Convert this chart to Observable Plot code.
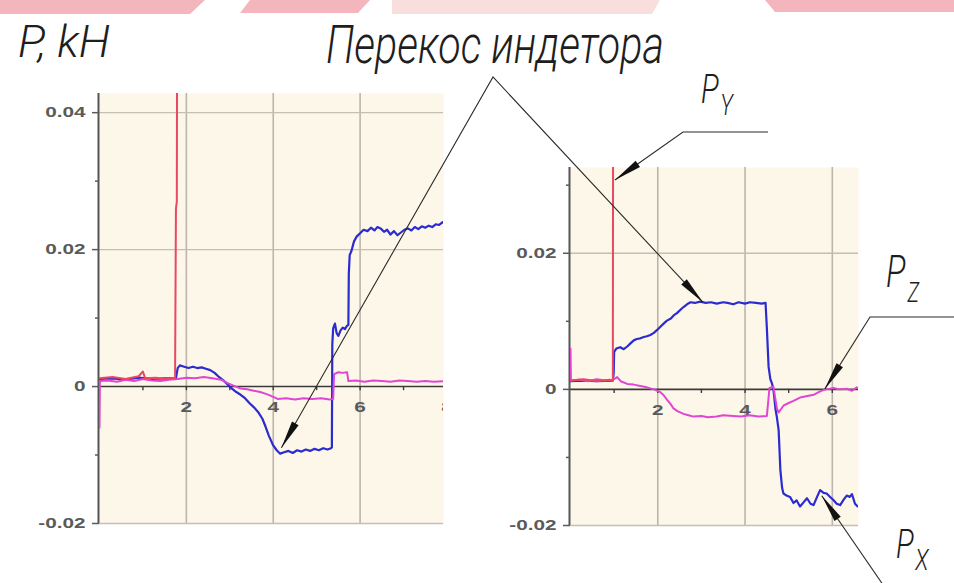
<!DOCTYPE html>
<html><head><meta charset="utf-8">
<script src="https://cdn.jsdelivr.net/npm/d3@7"></script>
<script src="https://cdn.jsdelivr.net/npm/@observablehq/plot@0.6"></script>
<style>
body{margin:0;background:#fff;}
#wrap{position:relative;width:954px;height:583px;overflow:hidden;background:#fff;}
#wrap svg{position:absolute;left:0;top:0;max-width:none;}
</style></head><body><div id="wrap"></div>
<script>
// ---------- data : left panel ----------
const leftPxT = [0,0.3,0.6,0.9,1.2,1.5,1.76,1.8,1.85,1.95,2.05,2.15,2.25,2.35,2.45,2.55,2.65,2.75,2.85,2.95,3.05,3.15,3.25,3.35,3.45,3.55,3.65,3.75,3.82,3.9,4.0,4.08,4.16,4.25,4.35,4.45,4.55,4.65,4.75,4.85,4.95,5.05,5.15,5.25,5.33,5.35,5.36,5.38,5.42,5.46,5.5,5.55,5.6,5.65,5.7,5.73,5.74,5.76,5.8,5.86,5.92,6.0,6.08,6.17,6.25,6.33,6.4,6.47,6.55,6.62,6.7,6.78,6.86,6.94,7.02,7.1,7.18,7.26,7.34,7.42,7.5,7.58,7.66,7.74,7.82,7.9,7.95];
const leftPxV = [0.0011,0.0012,0.001,0.0013,0.0011,0.0012,0.0012,0.0027,0.0031,0.0029,0.0027,0.0029,0.0027,0.0028,0.0026,0.0024,0.002,0.0014,0.0009,0.0003,-0.0003,-0.0008,-0.0012,-0.0017,-0.0024,-0.003,-0.0037,-0.0047,-0.0058,-0.0072,-0.0086,-0.0093,-0.0098,-0.0096,-0.0094,-0.0097,-0.0093,-0.0095,-0.0092,-0.0094,-0.0091,-0.0093,-0.009,-0.0092,-0.009,-0.0089,0.0062,0.0085,0.0092,0.0078,0.0074,0.0082,0.0086,0.0084,0.0089,0.009,0.0165,0.0192,0.0198,0.0212,0.0219,0.0224,0.0229,0.0227,0.0232,0.0228,0.0233,0.0231,0.0226,0.0229,0.0222,0.0227,0.0221,0.0225,0.0229,0.0231,0.0228,0.0233,0.023,0.0234,0.0232,0.0235,0.0233,0.0237,0.0236,0.024,0.0238];
const leftPzT = [0,0.01,0.2,0.4,0.6,0.8,1.0,1.2,1.4,1.6,1.8,2.0,2.2,2.4,2.6,2.8,2.95,3.1,3.25,3.4,3.55,3.7,3.85,4.0,4.1,4.3,4.5,4.7,4.9,5.1,5.3,5.38,5.4,5.5,5.6,5.7,5.73,5.9,6.1,6.3,6.5,6.7,6.9,7.1,7.3,7.5,7.7,7.95];
const leftPzV = [-0.006,0.0008,0.0009,0.0007,0.001,0.0008,0.0011,0.0009,0.0008,0.001,0.0011,0.0013,0.0012,0.0014,0.0012,0.001,0.0005,0.0001,-0.0003,-0.0004,-0.0006,-0.0008,-0.0011,-0.0015,-0.0018,-0.0017,-0.0019,-0.0017,-0.0018,-0.0017,-0.0019,-0.0018,0.0018,0.0021,0.002,0.0021,0.0008,0.0009,0.0007,0.0009,0.0008,0.0007,0.0009,0.0008,0.0007,0.0008,0.0007,0.0008];
const leftPyT = [0,0.3,0.6,0.9,1.0,1.05,1.3,1.5,1.74,1.76,1.78,1.79];
const leftPyV = [0.0012,0.0014,0.0011,0.0015,0.0022,0.0012,0.0013,0.0011,0.0013,0.026,0.027,0.06];

// ---------- data : right panel ----------
const rightPxT = [0,0.3,0.6,0.97,0.99,1.0,1.05,1.14,1.22,1.3,1.38,1.45,1.52,1.6,1.68,1.75,1.83,1.91,1.98,2.06,2.14,2.21,2.3,2.37,2.44,2.52,2.59,2.67,2.75,2.85,2.97,3.1,3.22,3.35,3.5,3.6,3.73,3.85,4.0,4.11,4.25,4.38,4.47,4.5,4.54,4.58,4.62,4.65,4.7,4.73,4.77,4.81,4.85,4.88,4.95,5.03,5.11,5.18,5.26,5.34,5.42,5.5,5.57,5.65,5.72,5.8,5.87,5.95,6.03,6.1,6.18,6.26,6.33,6.4,6.45,6.52,6.58];
const rightPxV = [0.0012,0.0013,0.0012,0.0013,0.0024,0.0055,0.006,0.0062,0.0059,0.0063,0.0068,0.0072,0.0074,0.0075,0.0077,0.0078,0.008,0.0083,0.0087,0.0092,0.0097,0.0101,0.0104,0.0109,0.0112,0.0117,0.0121,0.0125,0.0128,0.0127,0.0129,0.0127,0.0128,0.0126,0.0128,0.0127,0.0125,0.0128,0.0126,0.0128,0.0127,0.0126,0.0127,0.009,0.0033,0.0015,0.0008,0.0,-0.003,-0.0041,-0.006,-0.0119,-0.0145,-0.0153,-0.0156,-0.0158,-0.0167,-0.0163,-0.0172,-0.0166,-0.016,-0.0168,-0.017,-0.0158,-0.0148,-0.0152,-0.0153,-0.0158,-0.0163,-0.0168,-0.017,-0.0162,-0.0156,-0.0158,-0.0154,-0.0168,-0.0172];
const rightPzT = [0,0.01,0.2,0.4,0.6,0.8,0.97,1.07,1.15,1.3,1.45,1.6,1.75,1.91,2.06,2.14,2.21,2.3,2.36,2.45,2.59,2.7,2.82,3.0,3.15,3.35,3.5,3.73,3.9,4.11,4.3,4.5,4.56,4.65,4.73,4.77,4.88,5.0,5.11,5.26,5.4,5.57,5.72,5.84,5.95,6.03,6.15,6.33,6.45,6.56,6.6];
const rightPzV = [0.006,0.0013,0.0014,0.0012,0.0015,0.0013,0.0014,0.0018,0.0012,0.0008,0.0007,0.0005,0.0003,0.0,-0.0004,-0.0009,-0.0015,-0.0022,-0.0028,-0.0032,-0.0036,-0.0038,-0.004,-0.0039,-0.0041,-0.004,-0.0038,-0.0039,-0.004,-0.0038,-0.004,-0.0039,0.0002,0.0004,-0.0028,-0.0034,-0.0024,-0.002,-0.0017,-0.0012,-0.001,-0.0008,-0.0003,0.0,0.0001,0.0002,0.0,0.0001,-0.0002,0.0003,0.0002];
const rightPyT = [0,0.3,0.6,0.9,0.97,0.98];
const rightPyV = [0.0013,0.0015,0.0012,0.0014,0.0013,0.06];

// ---------- axes / ticks ----------
const leftXDomain = [0, 7.92], leftYDomain = [-0.02, 0.0428];
const rightXDomain = [0, 6.6], rightYDomain = [-0.02, 0.0326];
const leftYTicks = [0.04, 0.02, 0, -0.02], leftYLabels = ["0.04", "0.02", "0", "-0.02"];
const leftYMinor = [0.03, 0.01, -0.01];
const leftYGrid = [0.04, 0.02, -0.02];
const leftXTicks = [2, 4, 6, 8], leftXLabels = ["2", "4", "6", "8"];
const leftXGrid = [2, 4, 6];
const leftXMinor = [1, 2, 3, 4, 5, 6, 7];
const rightYTicks = [0.02, 0, -0.02], rightYLabels = ["0.02", "0", "-0.02"];
const rightYMinor = [0.03, 0.01, -0.01];
const rightYGrid = [0.02, -0.02];
const rightXTicks = [2, 4, 6], rightXLabels = ["2", "4", "6"];
const rightXGrid = [2, 4, 6];
const rightXMinor = [1, 2, 3, 4, 5, 6];

// annotation targets (data units)
const skewLeftTarget = [4.2, -0.009];
const skewRightTarget = [3.05, 0.0127];
const pyTarget = [1.03, 0.0307];
const pzTarget = [5.84, 0.0];
const pxTarget = [5.77, -0.0157];

const BLUE = "#2b2bd0", MAGENTA = "#e046d2", RED = "#ea4763";
const series = (T, V) => T.map((t, i) => ({t, v: V[i]}));

function panel(o) {
  return Plot.plot({
    width: 954, height: 583,
    marginLeft: o.left, marginRight: 954 - o.right, marginTop: o.top, marginBottom: 583 - o.bottom,
    x: {domain: o.xDomain, axis: null},
    y: {domain: o.yDomain},
    style: {background: "transparent", overflow: "visible", fontFamily: "'Liberation Sans', Arial, sans-serif", fontSize: "15px", fontWeight: "bold", color: "#5a5a5a"},
    marks: [
      Plot.frame({fill: "#fcf7e9", stroke: null}),
      Plot.ruleX(o.xGrid, {stroke: "#bdb5ab", strokeWidth: 1.6}),
      Plot.ruleY(o.yGrid, {stroke: "#c4beb4", strokeWidth: 1.4}),
      Plot.ruleY([0], {stroke: "#3a3a3a", strokeWidth: 1.6}),
      Plot.ruleX(o.xMinor, {x: d => d, y1: 0, y2: -0.0006, stroke: "#3a3a3a", strokeWidth: 1.4}),
      Plot.ruleX([0], {stroke: "#555", strokeWidth: 2, dx: -1}),
      Plot.axisY({ticks: o.yTicks, tickSize: 7, tickPadding: 7, tickFormat: (d, i) => o.yLabels[o.yTicks.indexOf(d)], label: null, strokeWidth: 1.5}),
      Plot.axisY({ticks: o.yMinor, tickSize: 4, tickFormat: () => "", label: null, strokeWidth: 1.5}),
      Plot.text(o.xTicks, {x: d => d, y: 0, text: (d, i) => o.xLabels[i], dy: 21, clip: true, fill: "#5a5a5a"}),
      Plot.line(series(o.pxT, o.pxV), {x: "t", y: "v", stroke: BLUE, strokeWidth: 2.2, clip: true}),
      Plot.line(series(o.pzT, o.pzV), {x: "t", y: "v", stroke: MAGENTA, strokeWidth: 2, clip: true}),
      Plot.line(series(o.pyT, o.pyV), {x: "t", y: "v", stroke: RED, strokeWidth: 2, clip: true})
    ]
  });
}

const wrap = document.getElementById("wrap");

// watermark fragment at the top
const wm = d3.create("svg").attr("width", 954).attr("height", 583);
const wmShapes = [
  [[0,0],[205,0],[190,14],[0,14]],
  [[250,0],[370,0],[358,13],[240,13]],
  [[392,0],[660,0],[652,14],[392,14]],
  [[765,0],[954,0],[954,12],[775,12]]
];
wm.selectAll("polygon").data(wmShapes).join("polygon")
  .attr("points", d => d.map(p => p.join(",")).join(" "))
  .attr("fill", (d, i) => i === 2 ? "#f9dede" : "#f4b6bd");
wrap.append(wm.node());

const L = panel({left: 99, right: 443, top: 93, bottom: 523, xDomain: leftXDomain, yDomain: leftYDomain,
  yTicks: leftYTicks, yLabels: leftYLabels, yMinor: leftYMinor, yGrid: leftYGrid,
  xTicks: leftXTicks, xLabels: leftXLabels, xGrid: leftXGrid, xMinor: leftXMinor,
  pxT: leftPxT, pxV: leftPxV, pzT: leftPzT, pzV: leftPzV, pyT: leftPyT, pyV: leftPyV});
const R = panel({left: 570, right: 858, top: 167, bottom: 525, xDomain: rightXDomain, yDomain: rightYDomain,
  yTicks: rightYTicks, yLabels: rightYLabels, yMinor: rightYMinor, yGrid: rightYGrid,
  xTicks: rightXTicks, xLabels: rightXLabels, xGrid: rightXGrid, xMinor: rightXMinor,
  pxT: rightPxT, pxV: rightPxV, pzT: rightPzT, pzV: rightPzV, pyT: rightPyT, pyV: rightPyV});
wrap.append(L);
wrap.append(R);

// stretch tick labels horizontally like the reference
for (const svg of [L, R]) {
  svg.querySelectorAll("text").forEach(t => {
    if (!t.textContent) return;
    const len = t.getComputedTextLength();
    if (len > 0) { t.setAttribute("textLength", (len * 1.38).toFixed(1)); t.setAttribute("lengthAdjust", "spacingAndGlyphs"); }
  });
}

// ---------- annotations ----------
const pt = (plot, d) => [plot.scale("x").apply(d[0]), plot.scale("y").apply(d[1])];
const ov = d3.create("svg").attr("width", 954).attr("height", 583);
wrap.append(ov.node());
const ink = "#2b2b2b";
const FONT = "Roboto, 'Open Sans', 'DejaVu Sans', sans-serif";
function leader(points) {
  ov.append("polyline").attr("points", points.map(p => p.join(",")).join(" "))
    .attr("fill", "none").attr("stroke", ink).attr("stroke-width", 1.1);
}
function arrowHead(from, tip, len = 28, half = 3.8) {
  const dx = tip[0] - from[0], dy = tip[1] - from[1], n = Math.hypot(dx, dy);
  const ux = dx / n, uy = dy / n, bx = tip[0] - ux * len, by = tip[1] - uy * len;
  ov.append("polygon").attr("points", [[tip[0], tip[1]], [bx - uy * half, by + ux * half], [bx + uy * half, by - ux * half]].map(p => p.join(",")).join(" "))
    .attr("fill", "#111");
}
// condensed italic label: scaled so that it spans the given width
function label(txt, x, y, size, width) {
  const t = ov.append("text").attr("x", 0).attr("y", 0).text(txt)
    .attr("font-family", FONT).attr("font-weight", 300).attr("font-style", "italic")
    .attr("font-size", size).attr("fill", "#1e1e1e");
  const s = width / t.node().getComputedTextLength();
  t.attr("transform", `translate(${x},${y}) scale(${s.toFixed(3)},1)`);
}
// force label: P with subscript, one text element, horizontally condensed
function forceLabel(sub, x, y, size, subSize, subDx, subDy) {
  const t = ov.append("text").attr("transform", `translate(${x},${y}) scale(0.74,1)`)
    .attr("font-family", FONT).attr("font-weight", 300).attr("font-style", "italic").attr("fill", "#1e1e1e");
  t.append("tspan").attr("x", 0).attr("y", 0).attr("font-size", size).text("P");
  t.append("tspan").attr("x", subDx).attr("y", subDy).attr("font-size", subSize).text(sub);
}
const apex = [493, 77];
const tSkewL = pt(L, skewLeftTarget), tSkewR = pt(R, skewRightTarget);
leader([tSkewL, apex, tSkewR]);
arrowHead(apex, tSkewL); arrowHead(apex, tSkewR);

const tPy = pt(R, pyTarget);
leader([[768, 132], [683, 132], tPy]); arrowHead([683, 132], tPy);
const tPz = pt(R, pzTarget);
leader([[954, 317], [870, 317], tPz]); arrowHead([870, 317], tPz);
const tPx = pt(R, pxTarget);
leader([[888, 592], tPx]); arrowHead([888, 592], tPx);

label("P, kH", 18, 57, 44, 92);
label("Перекос индетора", 326, 63, 54, 338);
forceLabel("Y", 701, 103, 40, 29, 26, 12);
forceLabel("Z", 886, 287, 44, 27, 29, 15);
forceLabel("X", 896, 558, 40, 30, 26, 12);
</script>
</body></html>
